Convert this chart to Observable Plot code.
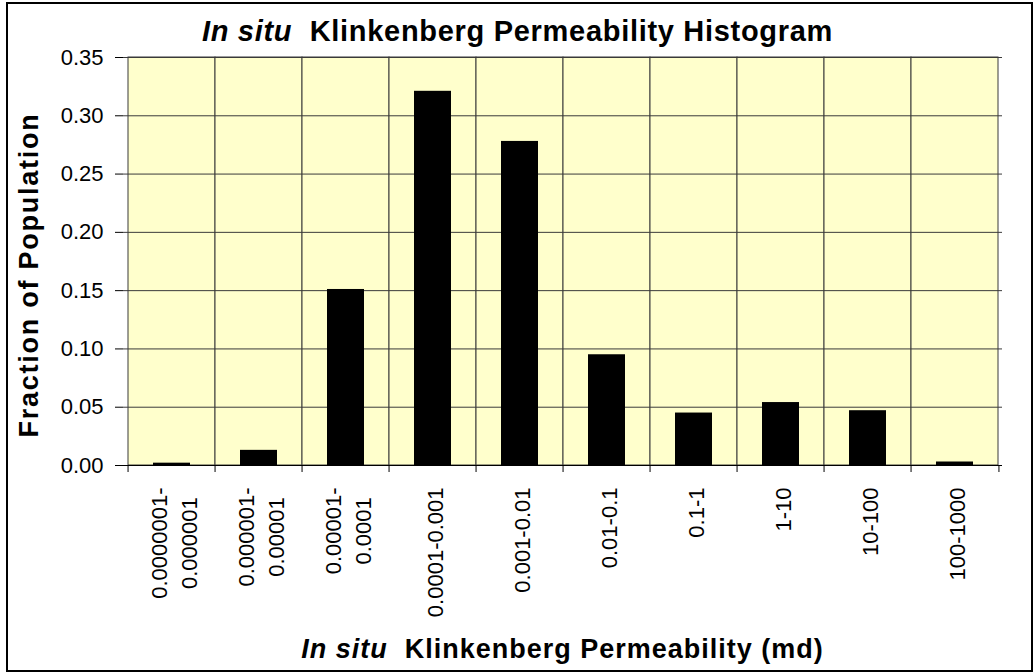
<!DOCTYPE html>
<html>
<head>
<meta charset="utf-8">
<script src="https://cdn.jsdelivr.net/npm/d3@7"></script>
<script src="https://cdn.jsdelivr.net/npm/@observablehq/plot@0.6"></script>
<style>
  body { margin: 0; background: #fff; }
  #wrap { position: relative; width: 1035px; height: 672px; overflow: hidden; font-family: "Liberation Sans", Arial, sans-serif; }
  #border { position: absolute; left: 6px; top: 2px; width: 1023px; height: 666px; border: 2px solid #000; }
  #chart { position: absolute; left: 0; top: 0; }
  #overlay { position: absolute; left: 0; top: 0; pointer-events: none; }
</style>
</head>
<body>
<div id="wrap">
  <div id="border"></div>
  <div id="chart"></div>
  <svg id="overlay" width="1035" height="672"></svg>
</div>
<script>
// ---- data ----
const categories = [
  "0.0000001-\n0.000001",
  "0.000001-\n0.00001",
  "0.00001-\n0.0001",
  "0.0001-0.001",
  "0.001-0.01",
  "0.01-0.1",
  "0.1-1",
  "1-10",
  "10-100",
  "100-1000"
];
const fractions = [0.002, 0.013, 0.151, 0.321, 0.278, 0.095, 0.045, 0.054, 0.047, 0.003];
const yTicks = [0, 0.05, 0.10, 0.15, 0.20, 0.25, 0.30, 0.35];
const titleItalic = "In situ";
const titleRest = "  Klinkenberg Permeability Histogram";
const xTitleRest = "  Klinkenberg Permeability (md)";
const yTitle = "Fraction of Population";

const table = categories.map((c, i) => ({cat: c, v: fractions[i]}));

// ---- layout ----
const W = 1035, H = 672;
const mL = 123, mR = 33, mT = 57, mB = 207;
const bw = (W - mL - mR) / categories.length;
const font = "'Liberation Sans', Arial, sans-serif";

// measure the longest line of each tick label to align label tops like the original
const ctx = document.createElement("canvas").getContext("2d");
ctx.font = "22px 'Liberation Sans'";
const longest = c => Math.max(...c.split("\n").map(s => ctx.measureText(s).width));

const labelMarks = categories.map(c => Plot.text([c], {
  x: d => d,
  frameAnchor: "bottom",
  text: d => d,
  rotate: -90,
  textAnchor: "middle",
  lineAnchor: "middle",
  lineHeight: 1.36,
  fontSize: 22,
  fill: "#000",
  dy: 22 + longest(c) / 2
}));

const chart = Plot.plot({
  width: W,
  height: H,
  marginLeft: mL,
  marginRight: mR,
  marginTop: mT,
  marginBottom: mB,
  style: {fontFamily: font, fontSize: "22px", color: "#000", background: "transparent", overflow: "visible"},
  x: {domain: categories, paddingInner: 0, paddingOuter: 0, axis: null},
  y: {domain: [0, 0.35], ticks: yTicks, tickFormat: d3.format(".2f"), tickSize: 8, tickPadding: 12, label: null},
  marks: [
    Plot.barY(categories, {x: d => d, y1: 0, y2: 0.35, fill: "#FFFFCC", stroke: "#3a3a3a", strokeWidth: 1}),
    Plot.ruleY(yTicks.filter(t => t > 0), {stroke: "#3a3a3a", strokeWidth: 1}),
    Plot.barY(table, {x: "cat", y: "v", fill: "#000", insetLeft: 25, insetRight: 25}),
    Plot.ruleY([0], {stroke: "#000", strokeWidth: 1}),
    Plot.ruleX(categories, {x: d => d, y1: 0, y2: 0, insetBottom: -7, dx: -bw / 2, stroke: "#000"}),
    Plot.ruleX(categories.slice(-1), {x: d => d, y1: 0, y2: 0, insetBottom: -7, dx: bw / 2, stroke: "#000"}),
    ...labelMarks
  ]
});
document.getElementById("chart").appendChild(chart);

// ---- titles (real text) ----
const ov = d3.select("#overlay");
const t = ov.append("text")
  .attr("x", W / 2).attr("y", 41)
  .attr("text-anchor", "middle")
  .attr("font-family", font).attr("font-size", 29).attr("font-weight", "bold")
  .attr("letter-spacing", 0.7)
  .style("white-space", "pre");
t.append("tspan").attr("font-style", "italic").text(titleItalic);
t.append("tspan").text(titleRest);

const xt = ov.append("text")
  .attr("x", mL + (W - mL - mR) / 2).attr("y", 658)
  .attr("text-anchor", "middle")
  .attr("font-family", font).attr("font-size", 27).attr("font-weight", "bold")
  .attr("letter-spacing", 1)
  .style("white-space", "pre");
xt.append("tspan").attr("font-style", "italic").text(titleItalic);
xt.append("tspan").text(xTitleRest);

ov.append("text")
  .attr("transform", "translate(38,275) rotate(-90)")
  .attr("text-anchor", "middle")
  .attr("font-family", font).attr("font-size", 27).attr("font-weight", "bold")
  .attr("letter-spacing", 1.75)
  .text(yTitle);
</script>
</body>
</html>
